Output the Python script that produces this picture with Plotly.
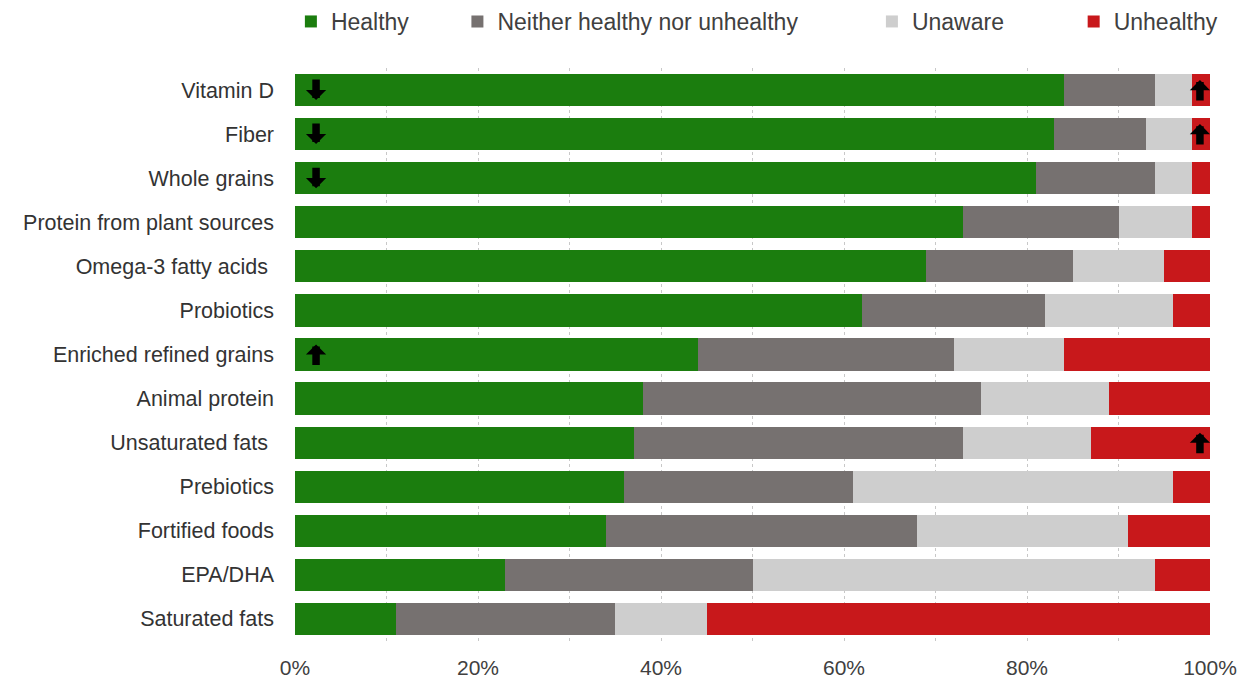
import plotly.graph_objects as go

# Share of respondents (%) by perceived healthfulness of each food component
categories = [
    "Vitamin D", "Fiber", "Whole grains", "Protein from plant sources",
    "Omega-3 fatty acids ", "Probiotics", "Enriched refined grains",
    "Animal protein", "Unsaturated fats ", "Prebiotics", "Fortified foods",
    "EPA/DHA", "Saturated fats",
]
healthy = [84, 83, 81, 73, 69, 62, 44, 38, 37, 36, 34, 23, 11]
neither = [10, 10, 13, 17, 16, 20, 28, 37, 36, 25, 34, 27, 24]
unaware = [4, 5, 4, 8, 10, 14, 12, 14, 14, 35, 23, 44, 10]
unhealthy = [2, 2, 2, 2, 5, 4, 16, 11, 13, 4, 9, 6, 55]

series = [
    ("Healthy", healthy, "#1b7d0e", "legend"),
    ("Neither healthy nor unhealthy", neither, "#767170", "legend2"),
    ("Unaware", unaware, "#cecece", "legend3"),
    ("Unhealthy", unhealthy, "#c8181b", "legend4"),
]

# Change indicators: (category, segment, direction)
changes = [
    ("Vitamin D", "Healthy", "down"),
    ("Fiber", "Healthy", "down"),
    ("Whole grains", "Healthy", "down"),
    ("Enriched refined grains", "Healthy", "up"),
    ("Vitamin D", "Unhealthy", "up"),
    ("Fiber", "Unhealthy", "up"),
    ("Unsaturated fats ", "Unhealthy", "up"),
]

tick_vals = [0, 20, 40, 60, 80, 100]
tick_text = ["0%", "20%", "40%", "60%", "80%", "100%"]

fig = go.Figure()
for name, vals, color, leg in series:
    fig.add_trace(go.Bar(
        y=categories, x=vals, name=name, orientation="h",
        marker=dict(color=color, line=dict(width=0)),
        legend=leg, showlegend=True, hoverinfo="x+y+name",
    ))

# arrows sit just inside the left end of "Healthy" or the right end of "Unhealthy"
seg_x = {"Healthy": 2.3, "Unhealthy": 98.9}
annotations = []
for cat, seg, direction in changes:
    down = direction == "down"
    annotations.append(dict(
        x=seg_x[seg], y=cat, xref="x", yref="y",
        text="", showarrow=True,
        ax=0, ay=-22 if down else 22,
        yshift=-10 if down else 10,
        arrowhead=1, arrowsize=0.45, arrowwidth=7.5, arrowcolor="#000000",
        standoff=0, startstandoff=0,
    ))

legend_common = dict(
    orientation="h", yref="container", y=1.0, yanchor="top",
    xanchor="left", font=dict(family="Liberation Sans", size=23, color="#404040"),
    bgcolor="rgba(0,0,0,0)", itemwidth=30, tracegroupgap=0,
)

fig.update_layout(
    width=1249, height=684,
    margin=dict(l=295, r=39, t=68, b=43, autoexpand=False),
    plot_bgcolor="white", paper_bgcolor="white",
    barmode="stack", bargap=0.27,
    font=dict(family="Liberation Sans", color="#404040"),
    showlegend=True,
    legend=dict(x=-0.0045, **legend_common),
    legend2=dict(x=0.1775, **legend_common),
    legend3=dict(x=0.6305, **legend_common),
    legend4=dict(x=0.851, **legend_common),
    annotations=annotations,
    xaxis=dict(
        range=[0, 100], tickvals=tick_vals, ticktext=tick_text,
        showgrid=True, gridcolor="#c8c8c8", griddash="dot", gridwidth=1,
        minor=dict(dtick=10, tick0=0, showgrid=True, gridcolor="#c8c8c8", griddash="dot"),
        zeroline=False, showline=False, ticks="",
        tickfont=dict(family="Liberation Sans", size=21, color="#404040"),
        ticklabelstandoff=12, fixedrange=True, automargin=False,
    ),
    yaxis=dict(
        autorange="reversed", showgrid=False, zeroline=False, showline=False,
        ticks="", tickfont=dict(family="Liberation Sans", size=21.5, color="#333333"),
        ticklabelstandoff=20, fixedrange=True, automargin=False,
    ),
)

fig.write_html("out.html")
